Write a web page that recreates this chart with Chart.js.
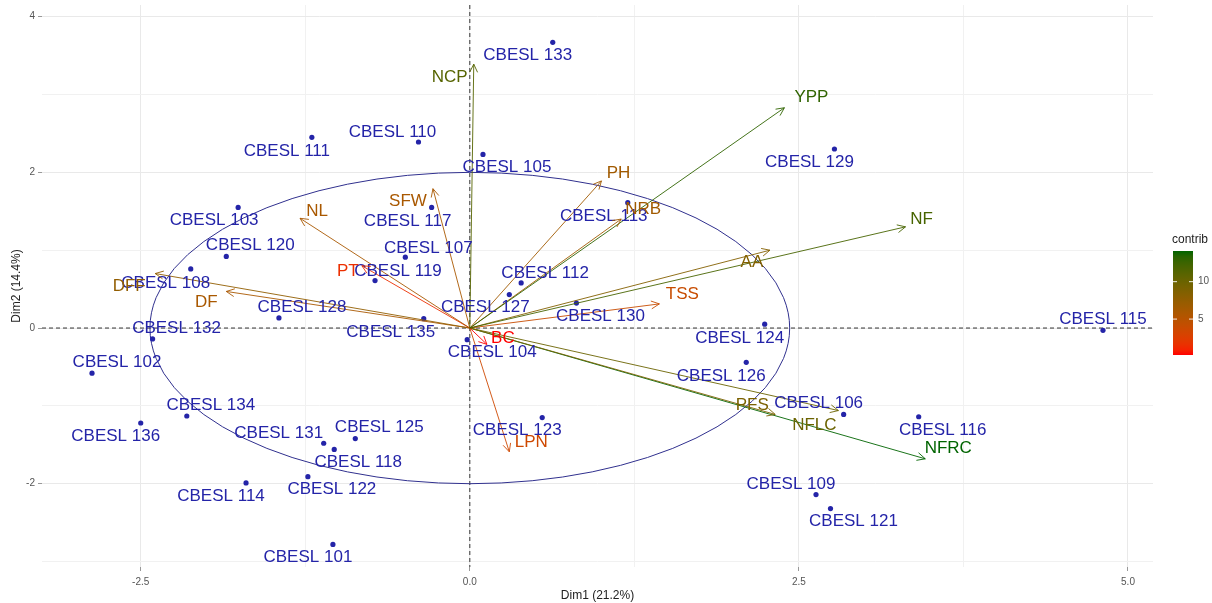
<!DOCTYPE html>
<html>
<head>
<meta charset="utf-8">
<title>PCA biplot</title>
<script src="https://cdn.jsdelivr.net/npm/chart.js@4.4.1/dist/chart.umd.min.js"></script>
<style>
  html, body { margin: 0; padding: 0; background: #fff; }
  canvas { display: block; }
</style>
</head>
<body>
<canvas id="biplot" width="1212" height="603"></canvas>
<script>
/* =========================
   DATA
========================= */
const cultivars = [
  "CBESL 101", "CBESL 102", "CBESL 103", "CBESL 104", "CBESL 105", "CBESL 106",
  "CBESL 107", "CBESL 108", "CBESL 109", "CBESL 110", "CBESL 111", "CBESL 112",
  "CBESL 113", "CBESL 114", "CBESL 115", "CBESL 116", "CBESL 117", "CBESL 118",
  "CBESL 119", "CBESL 120", "CBESL 121", "CBESL 122", "CBESL 123", "CBESL 124",
  "CBESL 125", "CBESL 126", "CBESL 127", "CBESL 128", "CBESL 129", "CBESL 130",
  "CBESL 131", "CBESL 132", "CBESL 133", "CBESL 134", "CBESL 135", "CBESL 136"
];
const indDim1 = [
  -1.04, -2.87, -1.76, -0.02, 0.10, 2.84,
  -0.49, -2.12, 2.63, -0.39, -1.20, 0.39,
  1.20, -1.70, 4.81, 3.41, -0.29, -1.03,
  -0.72, -1.85, 2.74, -1.23, 0.55, 2.24,
  -0.87, 2.10, 0.30, -1.45, 2.77, 0.81,
  -1.11, -2.41, 0.63, -2.15, -0.35, -2.50
];
const indDim2 = [
  -2.78, -0.58, 1.55, -0.15, 2.23, -1.11,
  0.91, 0.76, -2.14, 2.39, 2.45, 0.58,
  1.61, -1.99, -0.03, -1.14, 1.55, -1.56,
  0.61, 0.92, -2.32, -1.91, -1.15, 0.05,
  -1.42, -0.44, 0.43, 0.13, 2.30, 0.32,
  -1.48, -0.14, 3.67, -1.13, 0.12, -1.22
];

const traits = ["NCP", "YPP", "PH", "NRB", "NF", "AA", "TSS", "SFW", "NL",
                "PT", "DFF", "DF", "BC", "LPN", "PFS", "NFLC", "NFRC"];
const varDim1 = [0.03, 2.39, 1.00, 1.15, 3.31, 2.28, 1.44, -0.28, -1.29,
                 -0.82, -2.39, -1.85, 0.13, 0.30, 2.32, 2.80, 3.46];
const varDim2 = [3.39, 2.83, 1.89, 1.40, 1.30, 1.00, 0.31, 1.79, 1.41,
                 0.80, 0.70, 0.47, -0.21, -1.59, -1.11, -1.06, -1.68];
const contrib = [11.2, 13.0, 6.5, 6.5, 12.0, 8.5, 4.0, 6.0, 6.0,
                 1.5, 7.5, 6.0, 0.2, 3.5, 9.0, 10.0, 14.1];

const xTicks = [-2.5, -1.25, 0, 1.25, 2.5, 3.75, 5];
const yTicks = [-3, -2, -1, 0, 1, 2, 3, 4];
const legendTicks = [5, 10];

/* =========================
   LAYOUT / STYLE
========================= */
const FONT = "'Liberation Sans', Arial, sans-serif";
const IND_COLOR = "#2424a8";
const ELLIPSE_COLOR = "#30308e";
const ellipseCenter = [0, 0];
const ellipseRadii = [2.43, 2.0];

// label placement, pixels from the point / arrow tip (repel-style)
const indLabelOffset = [
  [-25, 13], [25, -11], [-24, 13], [25, 13], [24, 13], [-25, -11],
  [23, -9], [-25, 14], [-25, -10], [-26, -10], [-25, 14], [24, -10],
  [-24, 14], [-25, 13], [0, -11], [24, 14], [-24, 14], [24, 13],
  [23, -9], [24, -11], [23, 13], [24, 13], [-25, 13], [-25, 14],
  [24, -11], [-25, 14], [-24, 13], [23, -11], [-25, 13], [24, 13],
  [-45, -10], [24, -11], [-25, 13], [24, -11], [-33, 14], [-25, 13]
];
const varLabelOffset = [
  [-24, 13], [27, -10], [17, -8], [22, -10], [16, -8], [-18, 12], [23, -10],
  [-25, 13], [17, -7], [-14, 6], [-26, 13], [-20, 11], [16, -6], [22, -9],
  [-23, -9], [-24, 15], [23, -10]
];

/* =========================
   COLOUR GRADIENT (Lab, red -> darkgreen)
========================= */
function toLinear(c) { c /= 255; return c <= 0.04045 ? c / 12.92 : Math.pow((c + 0.055) / 1.055, 2.4); }
function fromLinear(c) {
  c = c <= 0.0031308 ? 12.92 * c : 1.055 * Math.pow(c, 1 / 2.4) - 0.055;
  return Math.round(Math.max(0, Math.min(1, c)) * 255);
}
function rgbToLab([r, g, b]) {
  const R = toLinear(r), G = toLinear(g), B = toLinear(b);
  const X = (0.4124 * R + 0.3576 * G + 0.1805 * B) / 0.95047;
  const Y = 0.2126 * R + 0.7152 * G + 0.0722 * B;
  const Z = (0.0193 * R + 0.1192 * G + 0.9505 * B) / 1.08883;
  const f = t => t > 0.008856 ? Math.cbrt(t) : 7.787 * t + 16 / 116;
  return [116 * f(Y) - 16, 500 * (f(X) - f(Y)), 200 * (f(Y) - f(Z))];
}
function labToRgb([L, a, b]) {
  const fy = (L + 16) / 116, fx = fy + a / 500, fz = fy - b / 200;
  const inv = t => t * t * t > 0.008856 ? t * t * t : (t - 16 / 116) / 7.787;
  const X = inv(fx) * 0.95047, Y = inv(fy), Z = inv(fz) * 1.08883;
  return [
    fromLinear(3.2406 * X - 1.5372 * Y - 0.4986 * Z),
    fromLinear(-0.9689 * X + 1.8758 * Y + 0.0415 * Z),
    fromLinear(0.0557 * X - 0.2040 * Y + 1.0570 * Z)
  ];
}
const LOW_LAB = rgbToLab([255, 0, 0]);
const HIGH_LAB = rgbToLab([0, 100, 0]);
const cMin = Math.min(...contrib), cMax = Math.max(...contrib);

function gradColor(t) {
  const lab = LOW_LAB.map((v, i) => v + (HIGH_LAB[i] - v) * t);
  const [r, g, b] = labToRgb(lab);
  return `rgb(${r},${g},${b})`;
}
function contribColor(v) { return gradColor((v - cMin) / (cMax - cMin)); }

/* =========================
   DATASETS
========================= */
const datasets = [];

traits.forEach((t, i) => {
  datasets.push({
    type: "line",
    label: t,
    data: [{ x: 0, y: 0 }, { x: varDim1[i], y: varDim2[i] }],
    borderColor: contribColor(contrib[i]),
    borderWidth: 0.9,
    pointRadius: 0,
    fill: false
  });
});

datasets.push({
  type: "scatter",
  label: "individuals",
  data: cultivars.map((c, i) => ({ x: indDim1[i], y: indDim2[i] })),
  backgroundColor: IND_COLOR,
  borderWidth: 0,
  pointRadius: 2.6
});

/* =========================
   DECORATIONS PLUGIN
========================= */
const biplotDecor = {
  id: "biplotDecor",
  beforeDatasetsDraw(chart) {
    const { ctx, chartArea: a, scales: { x, y } } = chart;
    ctx.save();
    // zero lines
    ctx.setLineDash([4, 3]);
    ctx.strokeStyle = "#333";
    ctx.lineWidth = 1;
    const x0 = x.getPixelForValue(0), y0 = y.getPixelForValue(0);
    ctx.beginPath();
    ctx.moveTo(x0, a.top); ctx.lineTo(x0, a.bottom);
    ctx.moveTo(a.left, y0); ctx.lineTo(a.right, y0);
    ctx.stroke();
    ctx.setLineDash([]);

    // concentration ellipse
    const cx = x.getPixelForValue(ellipseCenter[0]);
    const cy = y.getPixelForValue(ellipseCenter[1]);
    const rx = x.getPixelForValue(ellipseCenter[0] + ellipseRadii[0]) - cx;
    const ry = cy - y.getPixelForValue(ellipseCenter[1] + ellipseRadii[1]);
    ctx.strokeStyle = ELLIPSE_COLOR;
    ctx.lineWidth = 1;
    ctx.beginPath();
    ctx.ellipse(cx, cy, rx, ry, 0, 0, Math.PI * 2);
    ctx.stroke();
    ctx.restore();
  },

  afterDatasetsDraw(chart) {
    const { ctx, scales: { x, y } } = chart;
    ctx.save();
    ctx.textAlign = "center";
    ctx.textBaseline = "middle";

    // individual labels
    ctx.font = `17px ${FONT}`;
    ctx.fillStyle = IND_COLOR;
    cultivars.forEach((c, i) => {
      const px = x.getPixelForValue(indDim1[i]);
      const py = y.getPixelForValue(indDim2[i]);
      ctx.fillText(c, px + indLabelOffset[i][0], py + indLabelOffset[i][1]);
    });

    // arrow heads + variable labels
    const ox = x.getPixelForValue(0), oy = y.getPixelForValue(0);
    traits.forEach((t, i) => {
      const col = contribColor(contrib[i]);
      const tx = x.getPixelForValue(varDim1[i]);
      const ty = y.getPixelForValue(varDim2[i]);
      const ang = Math.atan2(ty - oy, tx - ox);
      const len = 9, spread = 0.45;
      ctx.strokeStyle = col;
      ctx.lineWidth = 0.9;
      ctx.beginPath();
      ctx.moveTo(tx - len * Math.cos(ang - spread), ty - len * Math.sin(ang - spread));
      ctx.lineTo(tx, ty);
      ctx.lineTo(tx - len * Math.cos(ang + spread), ty - len * Math.sin(ang + spread));
      ctx.stroke();

      ctx.fillStyle = col;
      ctx.fillText(t, tx + varLabelOffset[i][0], ty + varLabelOffset[i][1]);
    });
    ctx.restore();
  },

  afterDraw(chart) {
    // colourbar legend
    const { ctx } = chart;
    const barL = 1173, barR = 1193, barT = 251, barB = 355;
    ctx.save();
    const g = ctx.createLinearGradient(0, barB, 0, barT);
    for (let k = 0; k <= 20; k++) g.addColorStop(k / 20, gradColor(k / 20));
    ctx.fillStyle = g;
    ctx.fillRect(barL, barT, barR - barL, barB - barT);

    ctx.font = `12px ${FONT}`;
    ctx.fillStyle = "#222";
    ctx.textAlign = "left";
    ctx.textBaseline = "middle";
    ctx.fillText("contrib", barL - 1, 240);

    ctx.font = `10px ${FONT}`;
    ctx.fillStyle = "#555";
    ctx.strokeStyle = "rgba(255,255,255,0.9)";
    ctx.lineWidth = 1;
    legendTicks.forEach(v => {
      const ly = barB - (v - cMin) / (cMax - cMin) * (barB - barT);
      ctx.beginPath();
      ctx.moveTo(barL, ly); ctx.lineTo(barL + 4, ly);
      ctx.moveTo(barR - 4, ly); ctx.lineTo(barR, ly);
      ctx.stroke();
      ctx.fillText(String(v), barR + 5, ly);
    });
    ctx.restore();
  }
};

/* =========================
   CHART
========================= */
const isMajorX = v => Math.abs(v % 2.5) < 1e-9;
const isMajorY = v => Math.abs(v % 2) < 1e-9;

new Chart(document.getElementById("biplot"), {
  type: "scatter",
  data: { datasets },
  options: {
    responsive: false,
    animation: false,
    layout: { padding: { top: 5, right: 59, left: 0, bottom: 0 } },
    plugins: {
      legend: { display: false },
      tooltip: { enabled: false }
    },
    scales: {
      x: {
        type: "linear",
        min: -3.25,
        max: 5.19,
        afterBuildTicks: s => { s.ticks = xTicks.map(v => ({ value: v })); },
        afterFit: s => { s.height = 36; s.paddingLeft = 0; s.paddingRight = 0; },
        ticks: {
          autoSkip: false,
          maxRotation: 0,
          padding: 5,
          color: "#555",
          font: { family: FONT, size: 10 },
          callback: v => isMajorX(v) ? v.toFixed(1) : ""
        },
        grid: {
          color: c => isMajorX(c.tick.value) ? "#e9e9e9" : "#f1f1f1",
          lineWidth: 1,
          tickLength: 4,
          tickColor: c => isMajorX(c.tick.value) ? "#999" : "rgba(0,0,0,0)"
        },
        border: { display: false },
        title: {
          display: true,
          text: "Dim1 (21.2%)",
          color: "#222",
          font: { family: FONT, size: 12 },
          padding: { top: 0, bottom: 0 }
        }
      },
      y: {
        type: "linear",
        min: -3.07,
        max: 4.15,
        afterBuildTicks: s => { s.ticks = yTicks.map(v => ({ value: v })); },
        afterFit: s => { s.width = 42; s.paddingTop = 0; s.paddingBottom = 0; },
        ticks: {
          autoSkip: false,
          padding: 3,
          color: "#555",
          font: { family: FONT, size: 10 },
          callback: v => isMajorY(v) ? String(v) : ""
        },
        grid: {
          color: c => isMajorY(c.tick.value) ? "#e9e9e9" : "#f1f1f1",
          lineWidth: 1,
          tickLength: 4,
          tickColor: c => isMajorY(c.tick.value) ? "#999" : "rgba(0,0,0,0)"
        },
        border: { display: false },
        title: {
          display: true,
          text: "Dim2 (14.4%)",
          color: "#222",
          font: { family: FONT, size: 12 },
          padding: { top: 9, bottom: 0 }
        }
      }
    }
  },
  plugins: [biplotDecor]
});
</script>
</body>
</html>
